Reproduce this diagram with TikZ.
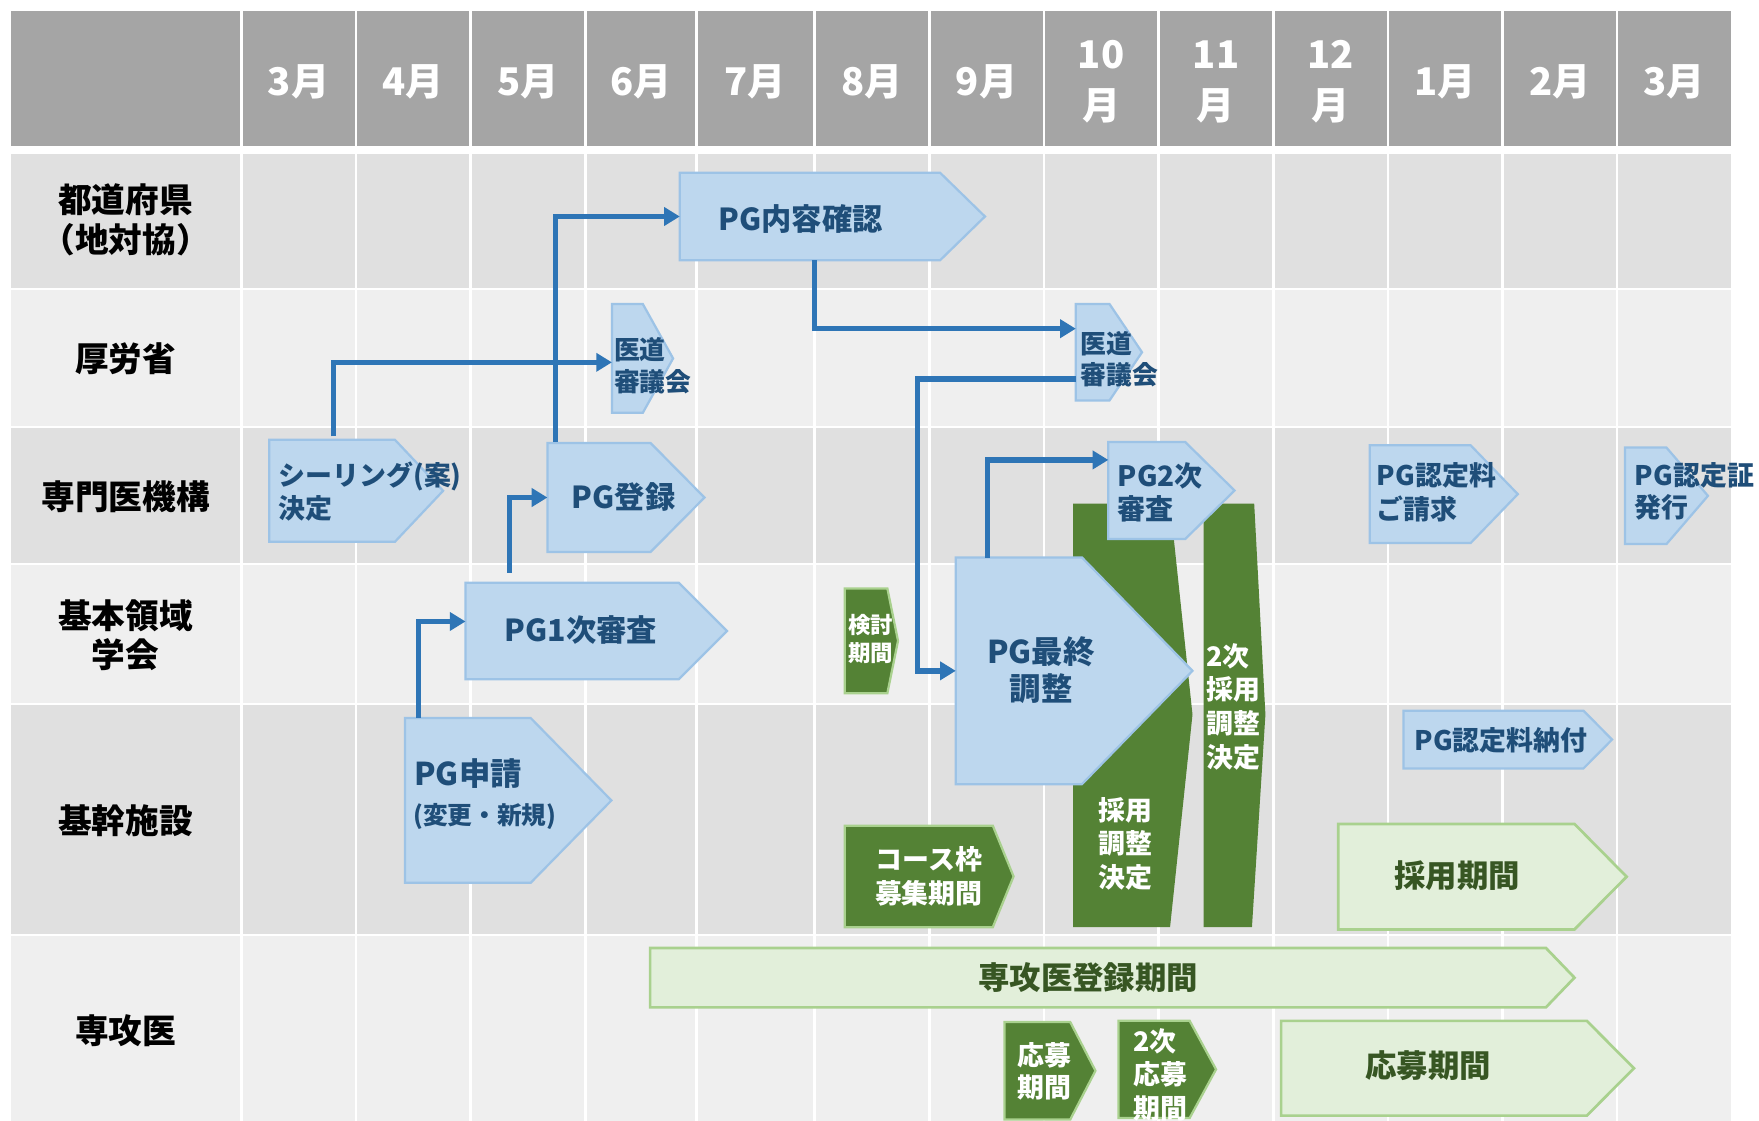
\documentclass[tikz,border=0pt]{standalone}
\usepackage{fontspec}
\setmainfont{Noto Sans CJK JP}
\usetikzlibrary{arrows.meta,calc}
\definecolor{hdr}{HTML}{A5A5A5}
\definecolor{rowA}{HTML}{E0E0E0}
\definecolor{rowB}{HTML}{EFEFEF}
\definecolor{bfill}{HTML}{BDD7EE}
\definecolor{bline}{HTML}{9DC3E6}
\definecolor{btext}{HTML}{1F4E79}
\definecolor{conncol}{HTML}{2E75B6}
\definecolor{gdark}{HTML}{548235}
\definecolor{glight}{HTML}{E2EFDA}
\definecolor{gline}{HTML}{A9D18E}
\definecolor{gtext}{HTML}{375623}
% style, name, x-left, x-flat, x-tip, y-top, y-bottom
\newcommand\pent[7]{%
  \path[#1] (#3,#6) -- (#4,#6) -- (#5,{(#6+#7)/2}) -- (#4,#7) -- (#3,#7) -- cycle;
  \coordinate (#2-w) at (#3,{(#6+#7)/2});
}
\begin{document}
\begin{tikzpicture}[x=0.5pt,y=-0.5pt,
  blueshape/.style={fill=bfill,draw=bline,line width=1pt},
  darkshape/.style={fill=gdark,draw=gline,line width=1pt},
  lightshape/.style={fill=glight,draw=gline,line width=1.2pt},
  trapshape/.style={fill=gdark},
  conn/.style={draw=conncol,line width=2.4pt,-{Triangle[length=7pt,width=8pt]}},
  txt/.style={inner sep=0pt,align=left},
  bt/.style={txt,text=btext},
  wt/.style={txt,text=white},
  gt/.style={txt,text=gtext},
  sA/.style={font=\bfseries\fontsize{10}{12.5}\selectfont},
  sB/.style={font=\bfseries\fontsize{11.5}{14}\selectfont},
  sC/.style={font=\bfseries\fontsize{12}{15}\selectfont},
  sD/.style={font=\bfseries\fontsize{12.5}{15}\selectfont},
  sE/.style={font=\bfseries\fontsize{13.5}{16.5}\selectfont},
  sF/.style={font=\bfseries\fontsize{14}{16.5}\selectfont},
  rowlabel/.style={inner sep=0pt,align=center,font=\bfseries\fontsize{15}{17.5}\selectfont},
  month/.style={inner sep=0pt,align=center,text=white,font=\bfseries\fontsize{17}{22.5}\selectfont}]
\useasboundingbox (0,0) rectangle (1568,999);
\clip (0,0) rectangle (1568,999);
\fill[white] (0,0) rectangle (1568,999);
% grid
\fill[hdr] (10,10) rectangle (1542.6,130);
\fill[rowA] (10,137) rectangle (1542.6,256.5);
\fill[rowB] (10,258.5) rectangle (1542.6,379.5);
\fill[rowA] (10,381.5) rectangle (1542.6,502);
\fill[rowB] (10,504) rectangle (1542.6,626.5);
\fill[rowA] (10,628.5) rectangle (1542.6,832.5);
\fill[rowB] (10,834.5) rectangle (1542.6,999);
\foreach \x in {215.1,317.2,419.2,521.8,620.8,725.9,828.4,930.4,1032.8,1135.2,1237.2,1339.2,1441.6}
  \draw[white,line width=1.1pt] (\x,10) -- (\x,999);
% month headers
\foreach \x/\t [count=\i] in {266.2/3月,368.2/4月,470.5/5月,571.3/6月,673.4/7月,777.2/8月,879.4/9月,981.6/{10\\月},1084/{11\\月},1186.2/{12\\月},1288.2/1月,1390.4/2月,1492.1/3月}
  \node[month] (m\i) at (\x,73) {\t};
% row labels
\node[rowlabel] (r1) at (112,196) {都道府県\\（地対協）};
\node[rowlabel] (r2) at (112,320) {厚労省};
\node[rowlabel] (r3) at (112,443) {専門医機構};
\node[rowlabel] (r4) at (112,566) {基本領域\\学会};
\node[rowlabel] (r5) at (112,732) {基幹施設};
\node[rowlabel] (r6) at (112,919) {専攻医};
% green trapezoids (behind)
\path[trapshape] (956.5,449) -- (1043,449) -- (1063,637) -- (1043,826.5) -- (956.5,826.5) -- cycle;
\path[trapshape] (1073,449) -- (1118,449) -- (1128,637) -- (1116,826.5) -- (1073,826.5) -- cycle;
% shapes
\pent{blueshape}{naiyo}{606}{838}{878}{154}{232}
\pent{blueshape}{idou1}{545.5}{573}{600}{271}{368}
\pent{blueshape}{idou2}{959}{989}{1018}{271}{357}
\pent{blueshape}{seal}{240}{352}{395}{392}{483}
\pent{blueshape}{touroku}{488}{580}{628}{395}{492}
\pent{blueshape}{pg1}{415}{605}{648}{519.5}{605.5}
\pent{blueshape}{shinsei}{361}{473}{545}{640}{787}
\pent{darkshape}{kentou}{753}{791}{800.5}{524.5}{618}
\pent{blueshape}{final}{852}{964.5}{1063}{497}{699}
\pent{blueshape}{pg2}{988}{1056.5}{1100.5}{394}{480.5}
\pent{blueshape}{seikyu}{1221}{1311}{1353}{397}{484}
\pent{blueshape}{shou}{1448.5}{1485.5}{1522.5}{399}{485}
\pent{blueshape}{noufu}{1251}{1411.5}{1437}{633.5}{685}
\pent{lightshape}{saiyou}{1193}{1403.5}{1450}{734.5}{828.5}
\pent{darkshape}{course}{753}{885}{903.5}{736}{826.5}
\pent{lightshape}{senkoi}{579.5}{1378}{1403.5}{845}{898}
\pent{darkshape}{oubo1}{895.5}{954}{976.5}{911}{998}
\pent{darkshape}{oubo2}{997}{1060.5}{1084}{910}{996.5}
\pent{lightshape}{oubo3}{1142}{1414.5}{1456.5}{910}{994.5}
% texts
\node[bt,sE,anchor=west] (t-naiyo) at (640,195) {PG内容確認};
\node[bt,sB,anchor=west] (t-idou1) at (547,326) {医道\\審議会};
\node[bt,sB,anchor=west] (t-idou2) at (963,320) {医道\\審議会};
\node[bt,sC,anchor=west,font=\bfseries\fontsize{12}{14.5}\selectfont] (t-seal) at (248,438) {シーリング(案)\\決定};
\node[bt,sE] (t-touroku) at (556,443) {PG登録};
\node[bt,sE] (t-pg1) at (518,562) {PG1次審査};
\node[bt,sF,anchor=west] (t-shinsei1) at (369,690) {PG申請};
\node[bt,font=\bfseries\fontsize{11}{13}\selectfont,anchor=west] (t-shinsei2) at (368,728) {(変更・新規)};
\node[wt,sA] (t-kentou) at (776,570) {検討\\期間};
\node[bt,sF,align=center] (t-final) at (928,597) {PG最終\\調整};
\node[bt,sD,anchor=west] (t-pg2) at (996,439) {PG2次\\審査};
\node[wt,sC,align=center] (t-trap1) at (1003,752) {採用\\調整\\決定};
\node[wt,sC,anchor=west] (t-trap2) at (1075,630) {2次\\採用\\調整\\決定};
\node[bt,sC,anchor=west] (t-seikyu) at (1227,439) {PG認定料\\ご請求};
\node[bt,sC,anchor=west,font=\bfseries\fontsize{12}{14.5}\selectfont] (t-shou) at (1457,438) {PG認定証\\発行};
\node[bt,sC] (t-noufu) at (1338,660) {PG認定料納付};
\node[wt,sC,align=center] (t-course) at (828,781) {コース枠\\募集期間};
\node[gt,sF] (t-saiyou) at (1299,781) {採用期間};
\node[gt,sF] (t-senkoi) at (970,871) {専攻医登録期間};
\node[wt,sC,align=center,font=\bfseries\fontsize{12}{14.5}\selectfont] (t-oubo1) at (931,955) {応募\\期間};
\node[wt,sC,anchor=west] (t-oubo2) at (1010,958) {2次\\応募\\期間};
\node[gt,sF] (t-oubo3) at (1273,950) {応募期間};
% connector end points
\coordinate (seal-out) at (297.5,389);
\coordinate (idou1-in) at (545.5,323);
\coordinate (touroku-out) at (495,394);
\coordinate (pg1-out) at (454,510.5);
\coordinate (shinsei-out) at (373,640);
\coordinate (pg1-in) at (415,554);
\coordinate (naiyo-out) at (726,232);
\coordinate (idou2-in) at (959,293);
\coordinate (idou2-out) at (959,338);
\coordinate (fbend) at (818,598);
\coordinate (final-out) at (880.5,497);
\coordinate (pg2-in) at (988,410);
% connectors
\draw[conn] (seal-out) |- (idou1-in);
\draw[conn] (touroku-out) |- (naiyo-w);
\draw[conn] (pg1-out) |- (touroku-w);
\draw[conn] (shinsei-out) |- (pg1-in);
\draw[conn] (naiyo-out) |- (idou2-in);
\draw[conn] (idou2-out) -| (fbend) -- (final-w);
\draw[conn] (final-out) |- (pg2-in);
\end{tikzpicture}
\end{document}
